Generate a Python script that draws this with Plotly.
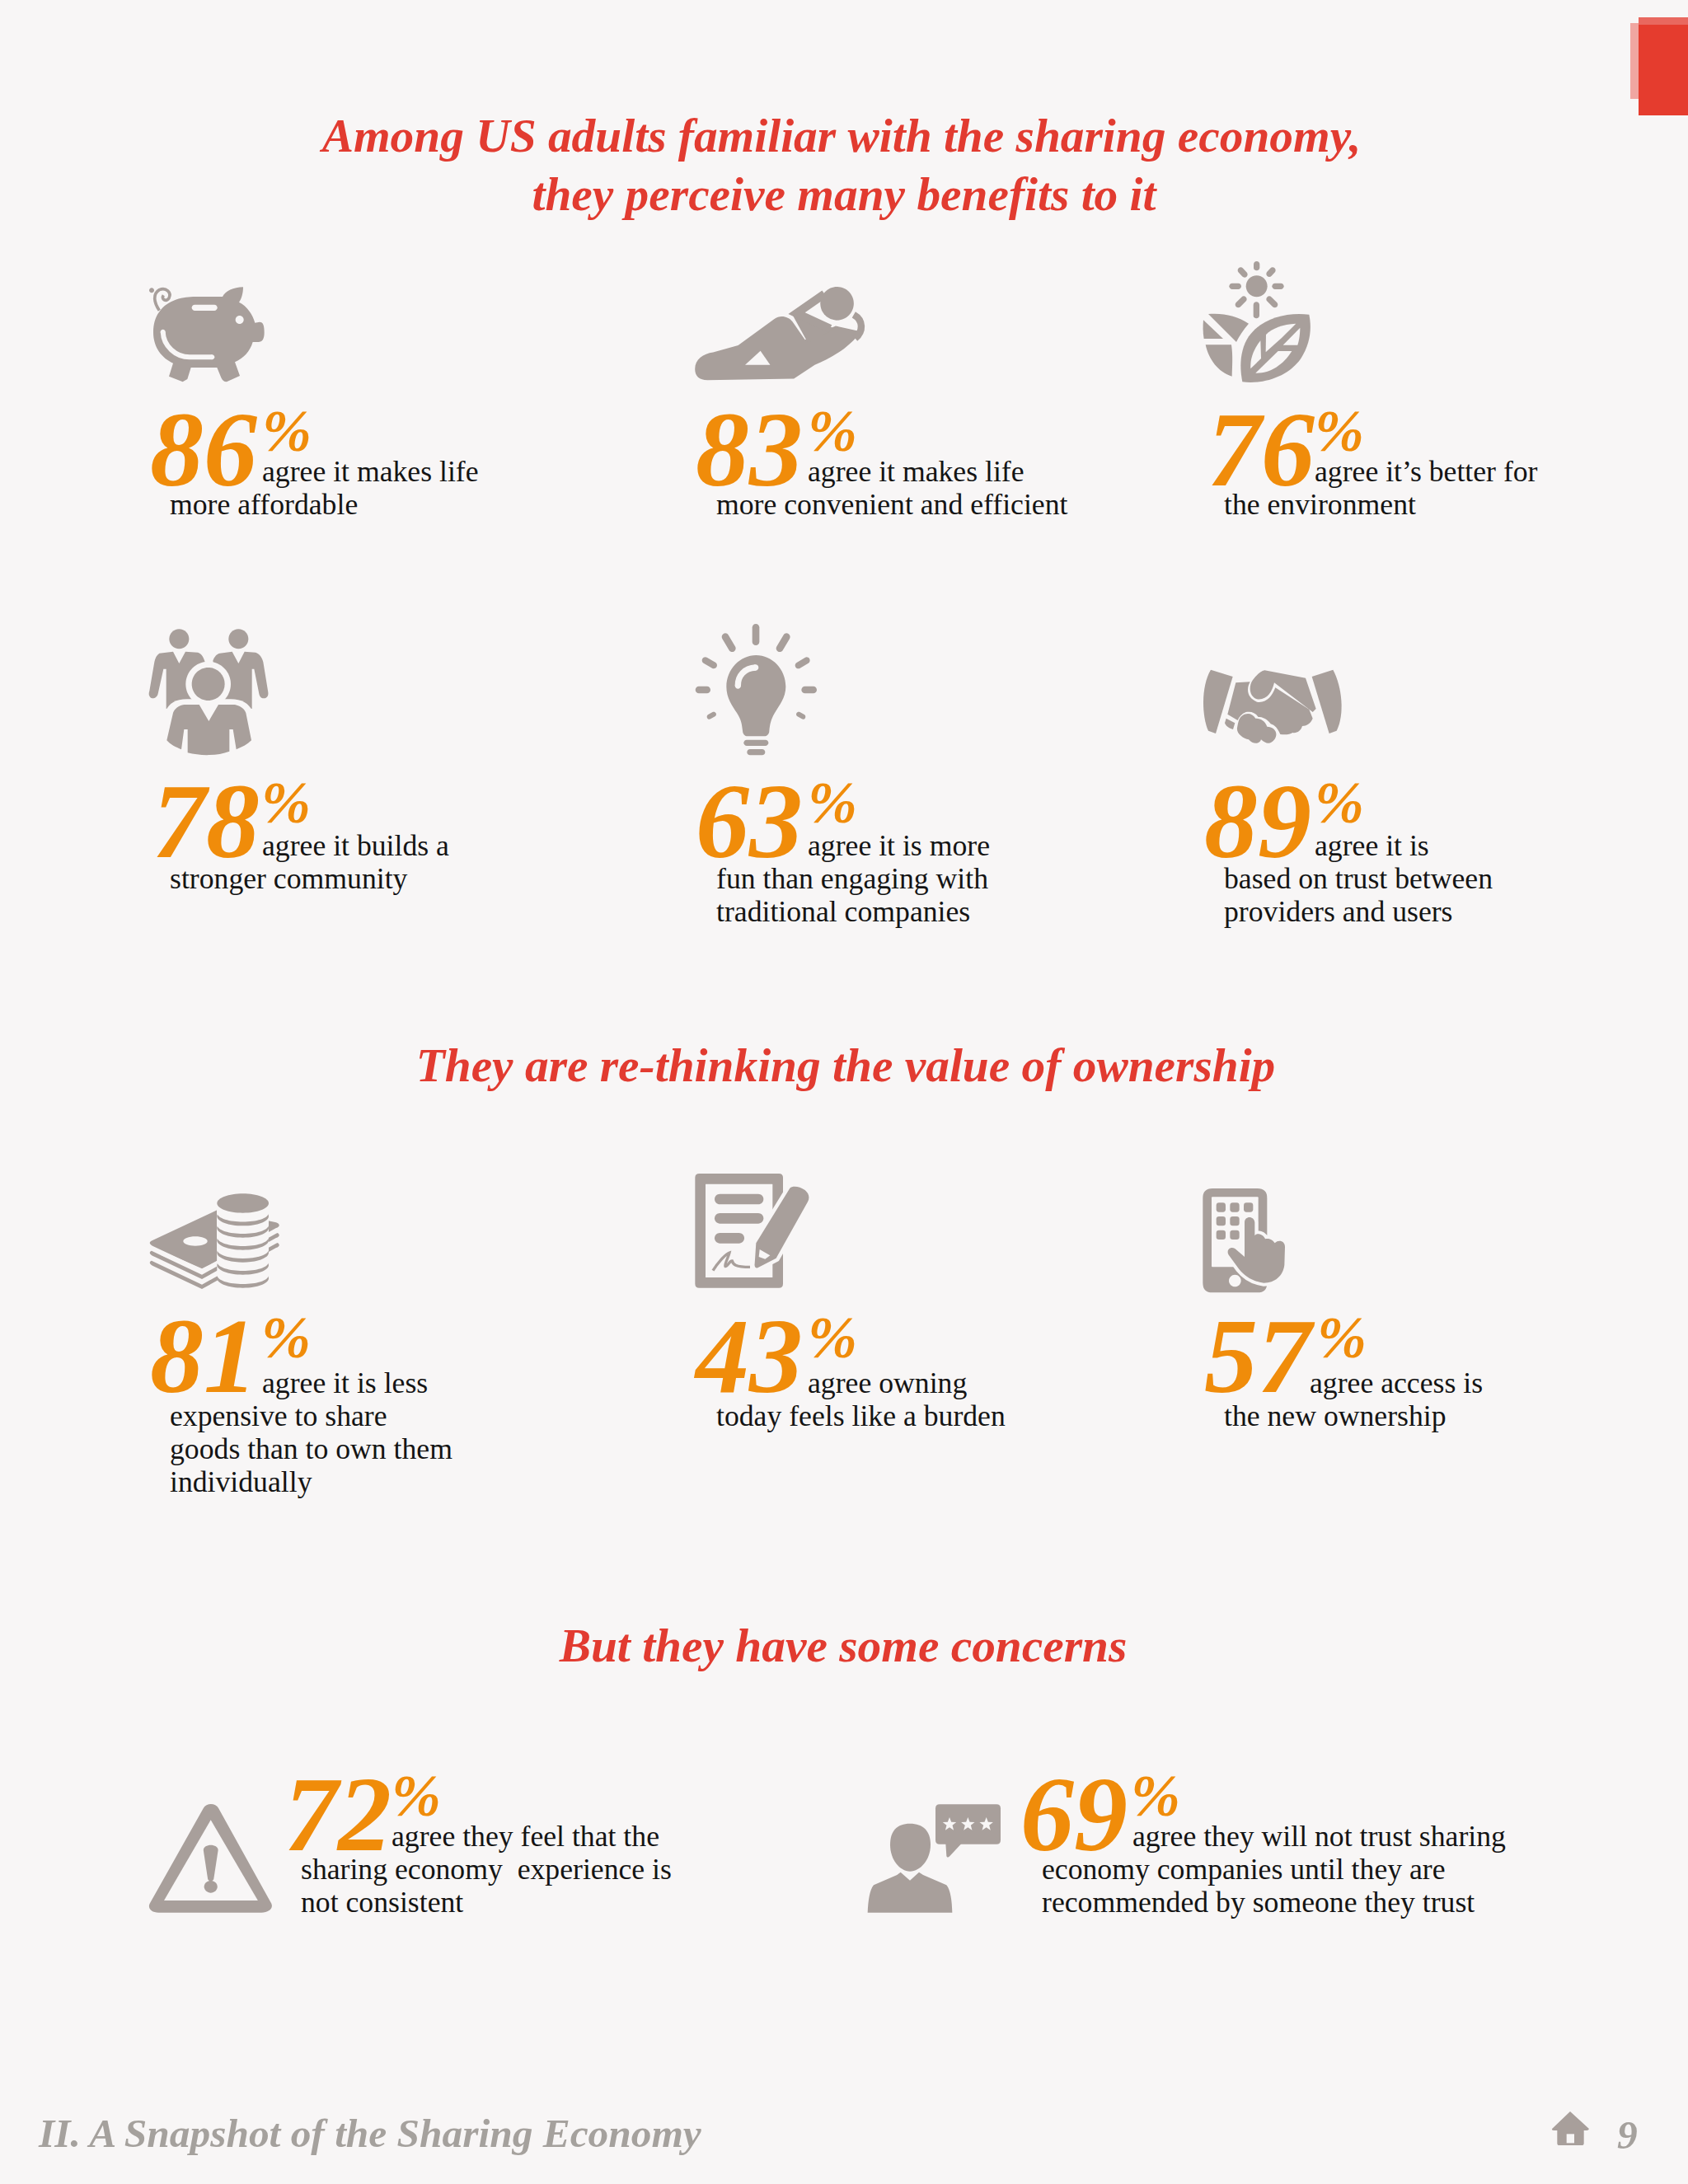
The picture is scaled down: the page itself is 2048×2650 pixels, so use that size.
import re, math
import plotly.graph_objects as go

# ---------- content ----------
TITLES = ["Among US adults familiar with the sharing economy,",
          "they perceive many benefits to it",
          "They are re-thinking the value of ownership",
          "But they have some concerns"]
PERCENTS = [86, 83, 76, 78, 63, 89, 81, 43, 57, 72, 69]
CAPTIONS = [
    ["agree it makes life", "more affordable"],
    ["agree it makes life", "more convenient and efficient"],
    ["agree it’s better for", "the environment"],
    ["agree it builds a", "stronger community"],
    ["agree it is more", "fun than engaging with", "traditional companies"],
    ["agree it is", "based on trust between", "providers and users"],
    ["agree it is less", "expensive to share", "goods than to own them", "individually"],
    ["agree owning", "today feels like a burden"],
    ["agree access is", "the new ownership"],
    ["agree they feel that the", "sharing economy\u00a0 experience is", "not consistent"],
    ["agree they will not trust sharing", "economy companies until they are", "recommended by someone they trust"],
]
FOOTER = "II. A Snapshot of the Sharing Economy"
PAGE = "9"

# ---------- layout (separate from the content) ----------
W, H = 2048, 2650
BG, GRAY, RED, ORANGE, INK, FOOT = "#F8F6F6", "#A89F9B", "#E23B30", "#F08C0A", "#141414", "#A5A19D"
DIGIT_X = [182, 844, 1465, 185, 844, 1461, 182, 844, 1461, 345, 1238]
PCT_X = [318, 980, 1595, 317, 980, 1595, 317, 980, 1598, 475, 1372]
CAP_X = [318, 980, 1595, 318, 980, 1595, 318, 980, 1589, 475, 1374]
CONT_X = [206, 869, 1485, 206, 869, 1485, 206, 869, 1485, 365, 1264]
DIGIT_BASE = [585, 585, 585, 1036, 1036, 1036, 1685, 1685, 1685, 2241, 2241]
CAP_BASE = [583, 583, 583, 1037, 1037, 1037, 1689, 1689, 1689, 2239, 2239]
LINE_GAP = 40
TITLE_POS = [(1021, 182), (1024, 253), (1026, 1310), (1023, 2014)]
SZ_TITLE, SZ_DIGIT, SZ_PCT, SZ_CAP, SZ_FOOT = 57.4, 130, 72, 35.7, 49.4

shapes = []
K = 0.5523


def ell_path(cx, cy, rx, ry):
    return (f"M {cx-rx} {cy} C {cx-rx} {cy-K*ry} {cx-K*rx} {cy-ry} {cx} {cy-ry} "
            f"C {cx+K*rx} {cy-ry} {cx+rx} {cy-K*ry} {cx+rx} {cy} "
            f"C {cx+rx} {cy+K*ry} {cx+K*rx} {cy+ry} {cx} {cy+ry} "
            f"C {cx-K*rx} {cy+ry} {cx-rx} {cy+K*ry} {cx-rx} {cy} Z")


class Icon:
    def __init__(self, ox, oy, sx=1/3, sy=None):
        self.ox, self.oy, self.sx, self.sy = ox, oy, sx, sy if sy else sx

    def tr(self, path):
        out, i = [], 0
        for t in re.findall(r"[MLCQZ]|-?\d+\.?\d*(?:e-?\d+)?", path):
            if t in "MLCQZ":
                out.append(t)
            else:
                v = float(t)
                out.append(f"{self.ox + v*self.sx:.2f}" if i % 2 == 0 else f"{self.oy + v*self.sy:.2f}")
                i += 1
        return " ".join(out)

    def fill(self, path, color=GRAY):
        shapes.append(dict(type="path", path=self.tr(path), fillcolor=color, xref="x", yref="y",
                           line=dict(width=0), layer="below"))

    def ell(self, cx, cy, rx, ry=None, color=GRAY):
        self.fill(ell_path(cx, cy, rx, ry if ry else rx), color)

    def rrect(self, x0, y0, x1, y1, r, color=GRAY):
        self.fill(f"M {x0+r} {y0} L {x1-r} {y0} Q {x1} {y0} {x1} {y0+r} L {x1} {y1-r} Q {x1} {y1} {x1-r} {y1} "
                  f"L {x0+r} {y1} Q {x0} {y1} {x0} {y1-r} L {x0} {y0+r} Q {x0} {y0} {x0+r} {y0} Z", color)

    def cap(self, x0, y0, x1, y1, w, color=GRAY):
        L = math.hypot(x1-x0, y1-y0)
        dx, dy = (x1-x0)/L, (y1-y0)/L
        nx, ny = -dy, dx
        r = w/2
        a = (x0+nx*r, y0+ny*r); b = (x1+nx*r, y1+ny*r)
        c = (x1-nx*r, y1-ny*r); e = (x0-nx*r, y0-ny*r)
        t1 = (x1+dx*r, y1+dy*r); t0 = (x0-dx*r, y0-dy*r)
        k = K*r
        f = lambda p, u=0, v=0: f"{p[0]+u:.2f} {p[1]+v:.2f}"
        self.fill(f"M {f(a)} L {f(b)} C {f(b,dx*k,dy*k)} {f(t1,nx*k,ny*k)} {f(t1)} "
                  f"C {f(t1,-nx*k,-ny*k)} {f(c,dx*k,dy*k)} {f(c)} L {f(e)} "
                  f"C {f(e,-dx*k,-dy*k)} {f(t0,-nx*k,-ny*k)} {f(t0)} "
                  f"C {f(t0,nx*k,ny*k)} {f(a,-dx*k,-dy*k)} {f(a)} Z", color)

    def stroke(self, path, w, color=GRAY):
        shapes.append(dict(type="path", path=self.tr(path), fillcolor="rgba(0,0,0,0)", xref="x", yref="y",
                           line=dict(width=w*self.sx, color=color), layer="below"))


# ---- corner marks
for x0, y0, x1, y1, c in [(1978, 28, 1988, 120, "#F0A6A1"), (1988, 21, 2048, 31, "#E9685F"), (1988, 30, 2048, 140, "#E53C2E")]:
    shapes.append(dict(type="rect", x0=x0, y0=y0, x1=x1, y1=y1, fillcolor=c, line=dict(width=0), xref="x", yref="y", layer="below"))

# ---- pig
a = Icon(150, 320)
a.fill("M 130 175 C 160 130 220 120 260 120 L 360 120 C 370 100 400 85 435 85 C 435 110 428 130 420 140 "
       "C 450 155 470 185 478 215 L 495 212 C 508 212 512 225 512 250 C 512 275 505 285 490 285 L 470 285 "
       "C 460 320 435 345 405 358 L 423 408 L 375 430 C 365 430 360 425 355 415 L 340 378 L 245 378 L 232 420 "
       "L 215 430 L 165 410 L 180 362 C 140 345 108 305 108 250 C 108 220 115 195 130 175 Z")
a.stroke("M 130 170 C 110 140 105 110 130 95 C 155 85 175 105 165 125 C 155 140 135 130 145 115", 11)
a.ell(102, 97, 9)
a.cap(259, 160, 330, 160, 22, BG)
a.ell(422, 204, 15, color=BG)
a.stroke("M 143 248 C 145 300 190 340 240 340 L 322 340", 18, BG)
a.ell(143, 248, 9, color=BG)
a.ell(322, 340, 9, color=BG)

# ---- reclining person
a = Icon(0, 0, 2048/1212)
a.ell(601, 218, 12)
a.fill("M 499 265 C 499 258 505 254 512 253 L 530 248 L 556 229 C 560 226 566 227 569 231 L 578 244 L 600 234 "
       "L 618 238 C 610 250 595 258 585 262 L 570 272 L 508 273 C 502 273 499 270 499 265 Z")
a.fill("M 535 262 L 553 262 L 546 252 Z", BG)
a.fill("M 569 226 L 600 236 L 580 246 Z")
a.stroke("M 596 236 L 572 225 L 592 211", 6)
a.stroke("M 613 226 C 620 230 620 238 614 243", 5)

# ---- sun and leaves
a = Icon(1420, 300)
a.ell(314, 142, 39)
for p in [(314, 62, 314, 74, 22), (313, 210, 313, 248, 22), (225, 142, 247, 142, 22), (381, 142, 402, 142, 22),
          (256, 84, 270, 99, 22), (372, 84, 360, 97, 22), (247, 209, 267, 189, 22), (360, 189, 380, 209, 22)]:
    a.cap(*p)
a.fill("M 138 243 C 190 238 245 250 285 278 C 265 300 250 325 240 345 Z")
a.fill("M 120 265 L 192 333 L 122 333 C 118 310 118 285 120 265 Z")
a.fill("M 128 355 L 222 355 C 228 395 225 435 224 470 C 175 455 140 410 128 355 Z")
a.fill("M 505 245 C 420 235 330 260 285 325 C 255 370 250 430 262 490 C 340 500 430 470 475 405 C 510 350 515 295 505 245 Z")
a.fill("M 457 278 C 410 280 370 295 348 318 L 347 382 L 405 330 Z", BG)
a.fill("M 328 340 C 300 375 290 410 292 442 L 330 405 Z", BG)
a.fill("M 472 293 L 410 356 L 463 356 C 470 335 472 310 472 293 Z", BG)
a.fill("M 392 378 L 442 378 C 410 430 360 460 310 458 Z", BG)

# ---- three people
a = Icon(160, 750)
a.ell(172, 76, 36)
a.ell(388, 76, 36)
a.fill("M 100 128 L 150 122 L 172 165 L 195 122 L 240 125 C 255 130 262 145 266 160 L 240 340 L 125 330 L 125 185 "
       "L 115 185 L 95 275 C 92 290 75 297 66 287 C 60 280 62 272 64 265 L 82 160 C 85 145 90 135 100 128 Z")
a.fill("M 320 128 L 365 122 L 388 165 L 410 122 L 450 125 C 465 130 475 145 478 160 L 496 270 C 498 285 490 292 480 292 "
       "C 470 292 465 285 463 275 L 445 185 L 437 185 L 437 330 L 320 330 L 295 155 C 300 140 310 130 320 128 Z")
a.ell(278, 240, 82, color=BG)
a.fill("M 122 340 C 135 310 160 295 200 295 L 360 295 C 400 295 425 310 440 340 L 445 520 L 120 520 Z", BG)
a.ell(278, 240, 60)
a.fill("M 190 315 L 245 315 L 280 375 L 315 315 L 375 315 C 395 320 410 330 415 345 L 435 445 C 420 460 400 470 380 478 "
       "L 368 405 L 355 405 L 355 485 C 310 502 250 502 203 490 L 203 405 L 190 405 L 180 478 C 160 470 140 460 127 445 "
       "L 150 345 C 155 330 170 318 190 315 Z")

# ---- light bulb
a = Icon(820, 740)
a.fill("M 292 165 C 350 165 400 215 400 280 C 400 320 375 350 360 375 C 345 400 342 420 340 440 C 340 452 332 460 322 460 "
       "L 262 460 C 250 460 244 452 243 440 C 240 415 238 400 222 375 C 205 350 184 320 184 280 C 184 215 235 165 292 165 Z")
a.stroke("M 226 276 C 225 240 250 212 290 210", 22, BG)
a.ell(226, 276, 11, color=BG)
a.ell(290, 210, 11, color=BG)
for p in [(258, 484, 326, 484, 22), (270, 518, 314, 518, 22), (291, 64, 291, 116, 26), (180, 98, 205, 140, 26),
          (403, 98, 378, 140, 26), (107, 184, 138, 202, 24), (476, 184, 446, 202, 24), (84, 291, 113, 291, 26),
          (470, 291, 500, 291, 26), (122, 389, 138, 380, 18), (463, 389, 447, 380, 18)]:
    a.cap(*p)

# ---- handshake
a = Icon(1440, 790)
a.fill("M 87 68 L 167 93 L 105 300 L 78 290 C 55 240 50 130 87 68 Z")
a.fill("M 532 68 C 565 130 575 230 545 290 L 518 300 L 455 93 Z")
a.fill("M 283 70 L 432 98 L 470 210 L 458 222 L 318 115 C 310 150 290 180 255 175 C 225 165 225 125 240 105 C 255 85 270 72 283 70 Z")
a.fill("M 178 115 L 230 112 C 215 140 220 170 255 185 C 290 190 310 165 322 133 L 445 212 L 458 245 C 450 265 435 272 420 273 "
       "C 415 290 400 300 385 297 C 375 305 355 305 340 303 C 330 280 320 270 305 265 C 290 245 275 240 260 240 "
       "C 250 225 235 218 215 222 C 200 228 190 240 185 252 L 148 230 Z")
a.fill("M 143 245 L 175 262 L 168 285 C 150 280 140 270 138 262 Z")
a.fill("M 190 250 C 200 225 235 218 250 245 C 270 245 285 255 292 275 C 315 275 335 295 320 320 C 305 340 290 340 270 322 "
       "C 265 340 240 340 225 322 C 205 318 180 300 183 280 C 185 268 187 258 190 250 Z")

# ---- money and coins
a = Icon(170, 1410)
BILL = "M 45 {a} L 280 {b} L 495 {c} C 510 {d} 510 {e} 495 {f} L 225 {g} L 45 {h} C 32 {i} 32 {j} 45 {a} Z"
def bill(dy, color):
    a.fill(BILL.format(a=285+dy, b=175+dy, c=220+dy, d=225+dy, e=235+dy, f=240+dy, g=390+dy, h=305+dy, i=298+dy, j=290+dy), color)
bill(72, GRAY); bill(56, BG); bill(36, GRAY); bill(20, BG); bill(0, GRAY)
a.fill("M 75 322 L 225 388 L 280 360 L 280 375 L 225 405 L 75 338 Z", BG)
a.ell(201, 288, 44, 17, BG)
for yb in [458, 410, 365, 320, 275, 232]:
    a.ell(374, yb-35, 94, 35)
    t = yb-48
    a.fill(f"M 280 150 L 468 150 L 468 {t} C 468 {t+45} 280 {t+45} 280 {t} Z", BG)
a.ell(374, 150, 94, 35)

# ---- document and pencil
a = Icon(830, 1410)
a.rrect(40, 42, 360, 458, 15)
a.rrect(78, 80, 322, 420, 1, BG)
for p in [(130, 135, 270, 135, 38), (130, 205, 270, 205, 38), (130, 277, 200, 277, 38)]:
    a.cap(*p)
a.stroke("M 105 395 C 120 370 150 335 165 330 C 160 350 145 375 150 380 C 160 380 165 358 175 360 C 178 372 185 382 240 382", 10)
PENCIL = ("M 385 95 C 395 85 420 88 440 102 C 455 115 458 130 450 145 L 335 350 L 268 385 "
          "C 260 388 255 380 257 370 L 262 295 Z")
shapes.append(dict(type="path", path=a.tr(PENCIL), fillcolor=BG, xref="x", yref="y",
                   line=dict(width=9, color=BG), layer="below"))
a.fill(PENCIL)
a.fill("M 275 318 L 313 340 L 295 353 L 272 345 Z", BG)

# ---- phone and hand
a = Icon(1440, 1420)
a.rrect(58, 66, 292, 445, 35)
a.rrect(90, 97, 260, 352, 3, BG)
a.ell(175, 402, 22, color=BG)
for cx, cy in [(124, 135), (174, 135), (224, 135), (124, 185), (174, 185), (124, 235), (174, 235)]:
    a.rrect(cx-17, cy-17, cx+17, cy+17, 10)
HAND = ("M 210 190 C 210 165 245 165 247 190 L 247 238 C 255 225 280 235 285 250 C 300 245 315 255 320 265 "
        "C 335 250 358 258 357 280 L 355 345 C 350 385 320 410 280 410 C 240 405 210 385 190 360 L 155 312 "
        "C 140 295 155 275 175 285 L 210 315 Z")
shapes.append(dict(type="path", path=a.tr(HAND), fillcolor=BG, xref="x", yref="y",
                   line=dict(width=8, color=BG), layer="below"))
a.fill(HAND)

# ---- warning triangle
a = Icon(170, 2170, 1/2.24, 1/3)
a.fill("M 172 72 C 180 52 205 52 213 72 L 355 415 C 365 435 350 452 330 452 L 50 452 C 30 452 18 435 28 415 Z")
a.fill("M 192 115 L 320 408 L 65 408 Z", BG)
a.fill("M 172 225 C 172 200 212 200 212 225 L 200 330 C 198 340 186 340 184 330 Z")
a.ell(192, 358, 18, 22)

# ---- person and speech bubble
a = Icon(1040, 2150)
a.fill("M 192 188 C 240 188 267 215 267 265 C 267 320 230 362 192 362 C 155 362 120 320 120 265 C 120 215 145 188 192 188 Z")
a.fill("M 38 512 C 40 470 45 430 60 412 L 145 375 L 158 365 L 192 395 L 225 365 L 240 375 L 325 412 C 340 430 345 470 346 512 Z")
a.rrect(285, 118, 522, 263, 15)
a.fill("M 322 260 L 325 305 C 326 312 332 312 338 305 L 380 260 Z")
for cx in (336, 403, 470):
    pts = []
    for i in range(10):
        r = 26 if i % 2 == 0 else 11
        t = -math.pi/2 + i*math.pi/5
        pts.append(f"{cx + r*math.cos(t):.1f} {191 + r*math.sin(t):.1f}")
    a.fill("M " + " L ".join(pts) + " Z", BG)

# ---- home
a = Icon(1850, 2530)
a.fill("M 165 96 L 233 158 C 235 165 225 165 215 165 L 215 212 C 215 216 212 219 208 219 L 125 219 C 121 219 118 216 118 212 "
       "L 118 165 C 105 165 95 165 100 158 Z")
a.fill("M 152 178 L 180 178 L 180 211 L 152 211 Z", BG)

# ---------- text ----------
fig = go.Figure()


def add_text(xs, bases, texts, size, color, pos="middle right", weight="normal", style="normal"):
    fig.add_trace(go.Scatter(
        x=xs, y=[b - 0.22*size for b in bases], text=texts, mode="text", textposition=pos,
        textfont=dict(family="Liberation Serif", size=size, color=color, weight=weight, style=style),
        hoverinfo="skip", showlegend=False, cliponaxis=False))


add_text([p[0] for p in TITLE_POS], [p[1] for p in TITLE_POS], TITLES, SZ_TITLE, RED, "middle center", "bold", "italic")
add_text(DIGIT_X, DIGIT_BASE, [str(v) for v in PERCENTS], SZ_DIGIT, ORANGE, weight="bold", style="italic")
add_text(PCT_X, [b - 40 for b in DIGIT_BASE], ["%"] * len(PERCENTS), SZ_PCT, ORANGE, weight="bold", style="italic")
cx, cy, ct = [], [], []
for i, lines in enumerate(CAPTIONS):
    for j, line in enumerate(lines):
        cx.append(CAP_X[i] if j == 0 else CONT_X[i])
        cy.append(CAP_BASE[i] + j*LINE_GAP)
        ct.append(line)
add_text(cx, cy, ct, SZ_CAP, INK)
add_text([47], [2604], [FOOTER], SZ_FOOT, FOOT, weight="bold", style="italic")
add_text([1962], [2606], [PAGE], SZ_FOOT, FOOT, weight="bold", style="italic")

axis = dict(visible=False, fixedrange=True, showgrid=False, zeroline=False)
fig.update_layout(width=W, height=H, margin=dict(l=0, r=0, t=0, b=0), autosize=False,
                  paper_bgcolor=BG, plot_bgcolor=BG, showlegend=False, shapes=shapes,
                  xaxis=dict(range=[0, W], **axis), yaxis=dict(range=[H, 0], **axis))
fig.write_html("out.html", config=dict(displayModeBar=False),
               post_script="document.body.style.margin='0';document.body.style.background='#F8F6F6';")
